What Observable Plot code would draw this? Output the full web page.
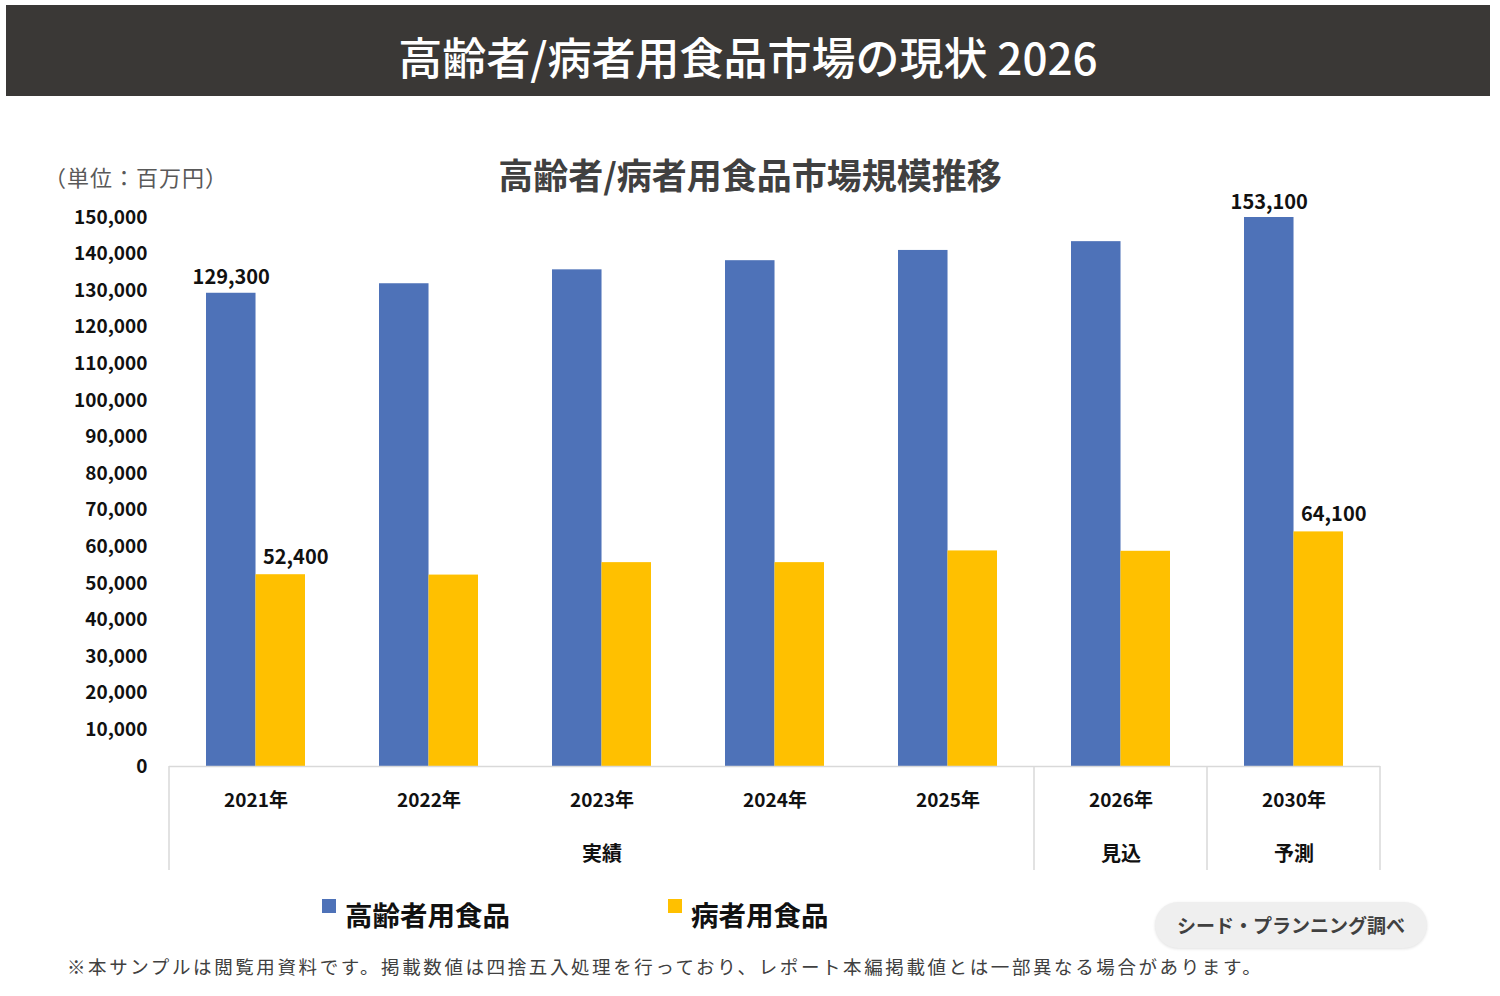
<!DOCTYPE html>
<html lang="ja">
<head>
<meta charset="utf-8">
<script src="https://cdn.jsdelivr.net/npm/d3@7"></script>
<script src="https://cdn.jsdelivr.net/npm/@observablehq/plot@0.6"></script>
<style>
  body { margin: 0; background: #fff; font-family: "Noto Sans CJK JP", sans-serif; width: 1500px; height: 996px; position: relative; overflow: hidden; }
  #header { position: absolute; left: 6px; top: 5px; width: 1484px; height: 91px; background: #3a3836; color: #fff;
    font-size: 44px; font-weight: 500; text-align: center; line-height: 103px; }
  #title { position: absolute; left: 0; width: 1500px; top: 148px; text-align: center; font-size: 35px; font-weight: 700; color: #404040; }
  #unit { position: absolute; left: 44px; top: 160px; font-size: 22px; letter-spacing: 1px; color: #595959; }
  #chart { position: absolute; left: 0; top: 190px; }
  #legend { position: absolute; top: 894px; left: 0; font-size: 27.5px; font-weight: 700; color: #111; }
  #legend span { position: absolute; white-space: nowrap; }
  #legend i { display: inline-block; width: 14px; height: 14px; margin-right: 9px; vertical-align: 13px; }
  #source { position: absolute; left: 1155px; top: 902px; width: 272px; height: 46px; border-radius: 23px; background: #efefef;
    box-shadow: 0 1px 3px rgba(0,0,0,0.12); text-align: center; line-height: 46px; font-size: 19px; font-weight: 700; color: #404040; }
  #note { position: absolute; left: 67px; top: 953px; font-size: 18.5px; letter-spacing: 2.6px; color: #404040; white-space: nowrap; }
</style>
</head>
<body>
<div id="header">高齢者/病者用食品市場の現状 2026</div>
<div id="title">高齢者/病者用食品市場規模推移</div>
<div id="unit">（単位：百万円）</div>
<div id="chart"></div>
<div id="legend"></div>
<div id="source">シード・プランニング調べ</div>
<div id="note">※本サンプルは閲覧用資料です。掲載数値は四捨五入処理を行っており、レポート本編掲載値とは一部異なる場合があります。</div>
<script>
// 数値は画像から読み取り(百万円)
const years = ["2021年", "2022年", "2023年", "2024年", "2025年", "2026年", "2030年"]
const elderly = [129300, 131900, 135700, 138200, 141000, 143400, 153100]
const patient = [52400, 52300, 55700, 55700, 58900, 58800, 64100]
const seriesNames = ["高齢者用食品", "病者用食品"]
const colors = ["#4e72b8", "#ffc000"]
const labeledYears = ["2021年", "2030年"]
// 区分ラベル
const groupLabels = ["実績", "見込", "予測"]
const groupCenter = ["2023年", "2026年", "2030年"]
const groupFirst = ["2021年", "2026年", "2030年"]
const yTicks = d3.range(0, 150001, 10000)

const data = years.map((year, i) => ({year, elderly: elderly[i], patient: patient[i]}))
const labeled = data.filter(d => labeledYears.includes(d.year))
const groups = groupLabels.map((label, i) => ({label, year: groupCenter[i]}))

const W = 1500, H = 700
const mL = 169, mR = 120, mT = 27, mB = 124
const padIn = 0.428
const step = (W - mL - mR) / years.length
const half = step * (1 - padIn) / 2
const fmt = d3.format(",")
const font = "Noto Sans CJK JP"

let chart = Plot.plot({
  width: W,
  height: H,
  marginLeft: mL,
  marginRight: mR,
  marginTop: mT,
  marginBottom: mB,
  style: {fontFamily: font, fontSize: "19px", fontWeight: "bold", color: "#111", background: "transparent", overflow: "visible"},
  x: {domain: years, paddingInner: padIn, paddingOuter: padIn / 2, tickSize: 0, tickPadding: 27, label: null},
  y: {domain: [0, 150000], clamp: true, ticks: yTicks, tickFormat: fmt, tickSize: 0, tickPadding: 22, label: null},
  marks: [
    Plot.barY(data, {x: "year", y: "elderly", fill: colors[0], insetRight: half}),
    Plot.barY(data, {x: "year", y: "patient", fill: colors[1], insetLeft: half}),
    Plot.ruleY([0], {stroke: "#d9d9d9", strokeWidth: 1.5}),
    // 区切り線
    (index, scales) => {
      const x = scales.x
      const gap = x.step() - x.bandwidth()
      const xs = groupFirst.map(y => x(y) - gap / 2)
      xs.push(x(years[years.length - 1]) + x.bandwidth() + gap / 2)
      const g = d3.create("svg:g")
      g.selectAll("line").data(xs).join("line")
        .attr("x1", d => d).attr("x2", d => d)
        .attr("y1", H - mB).attr("y2", H - mB + 104)
        .attr("stroke", "#d9d9d9").attr("stroke-width", 1.5)
      return g.node()
    },
    Plot.text(groups, {x: "year", text: "label", frameAnchor: "bottom", dy: 94, fontSize: 20, fontWeight: "bold", fill: "#111"}),
    Plot.text(labeled, {x: "year", y: "elderly", text: d => fmt(d.elderly), dx: -half / 2, dy: -9, lineAnchor: "bottom", fontSize: 20, fontWeight: "bold", fill: "#111"}),
    Plot.text(labeled, {x: "year", y: "patient", text: d => fmt(d.patient), dx: half / 2 + 15, dy: -11, lineAnchor: "bottom", fontSize: 20, fontWeight: "bold", fill: "#111"})
  ]
})
d3.select("#chart").append(() => chart)

// 凡例
const legendX = [322, 668]
d3.select("#legend").selectAll("span").data(seriesNames).join("span")
  .style("left", (d, i) => legendX[i] + "px")
  .html((d, i) => `<i style="background:${colors[i]}"></i>${d}`)
</script>
</body>
</html>
